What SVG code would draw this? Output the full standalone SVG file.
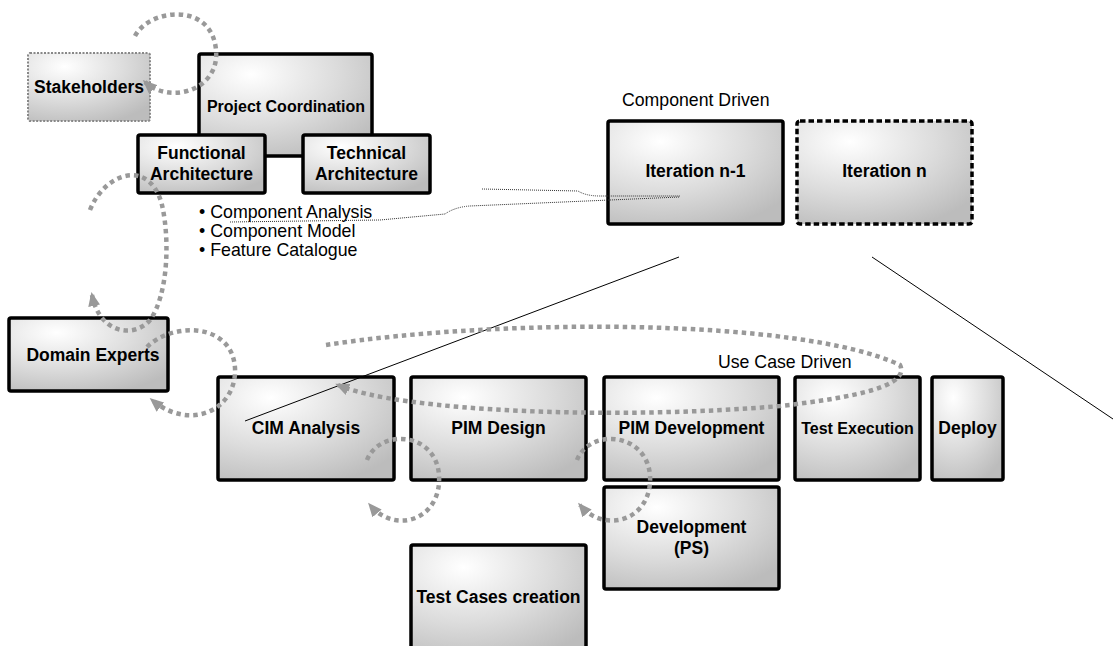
<svg xmlns="http://www.w3.org/2000/svg" width="1113" height="646" viewBox="0 0 1113 646">
  <defs>
    <radialGradient id="boxFill" cx="0.3" cy="0.2" r="0.9" fx="0.3" fy="0.2">
      <stop offset="0" stop-color="#ffffff"/>
      <stop offset="0.55" stop-color="#dcdcdc"/>
      <stop offset="1" stop-color="#bcbcbc"/>
    </radialGradient>
    <marker id="grayHead" viewBox="0 0 14 12" markerWidth="14" markerHeight="12" refX="11" refY="6" orient="auto" markerUnits="userSpaceOnUse">
      <path d="M0,0 L14,6 L0,12 z" fill="#999999"/>
    </marker>
    <style>
      .box { fill: url(#boxFill); stroke: #000; stroke-width: 3.5; }
      .soft { fill: url(#boxFill); stroke: #888; stroke-width: 2; stroke-dasharray: 2 1.5; }
      .dash { fill: url(#boxFill); stroke: #000; stroke-width: 3.5; stroke-dasharray: 5.5 3; }
      .lbl { font-family: "Liberation Sans", Arial, Helvetica, sans-serif; font-weight: bold; font-size: 17.5px; fill: #000; text-anchor: middle; }
      .small { font-size: 16px; }
      .note { font-family: "Liberation Sans", Arial, Helvetica, sans-serif; font-size: 17.7px; fill: #000; }
      .bul { font-family: "Liberation Sans", Arial, Helvetica, sans-serif; font-size: 17.8px; fill: #000; }
      .flow { fill: none; stroke: #999999; stroke-width: 4.5; stroke-dasharray: 4.5 4; marker-end: url(#grayHead); }
      .thin { fill: none; stroke: #000; stroke-width: 1; }
      .hair { fill: none; stroke: #333; stroke-width: 1; stroke-dasharray: 1 1; }
    </style>
  </defs>

  <rect width="1113" height="646" fill="#ffffff"/>

  <!-- management area -->
  <g id="stakeholders">
    <rect class="soft" x="28" y="53" width="122" height="68" rx="2"/>
    <text class="lbl" x="89" y="93">Stakeholders</text>
  </g>
  <g id="project-coordination">
    <rect class="box" x="199" y="54" width="173" height="102" rx="2"/>
    <text class="lbl small" x="286" y="112">Project Coordination</text>
  </g>
  <g id="functional-architecture">
    <rect class="box" x="138" y="135" width="127" height="58" rx="2"/>
    <text class="lbl" x="201.5" y="159">Functional</text>
    <text class="lbl" x="201.5" y="180">Architecture</text>
  </g>
  <g id="technical-architecture">
    <rect class="box" x="303" y="135" width="127" height="58" rx="2"/>
    <text class="lbl" x="366.5" y="159">Technical</text>
    <text class="lbl" x="366.5" y="180">Architecture</text>
  </g>
  <g id="architecture-outputs">
    <text class="bul" x="199" y="218">• Component Analysis</text>
    <text class="bul" x="199" y="237">• Component Model</text>
    <text class="bul" x="199" y="256">• Feature Catalogue</text>
  </g>

  <!-- component driven iterations -->
  <g id="component-driven">
    <text class="note" x="622" y="106">Component Driven</text>
  </g>
  <g id="iteration-n-1">
    <rect class="box" x="608" y="121" width="175" height="103" rx="2"/>
    <text class="lbl" x="695.5" y="177">Iteration n-1</text>
  </g>
  <g id="iteration-n">
    <rect class="dash" x="797" y="121" width="175" height="103" rx="3"/>
    <text class="lbl" x="884.5" y="177">Iteration n</text>
  </g>

  <g id="domain-experts">
    <rect class="box" x="9" y="318" width="159" height="73" rx="2"/>
    <text class="lbl" x="93" y="361">Domain Experts</text>
  </g>

  <!-- use case driven steps -->
  <g id="use-case-driven">
    <text class="note" x="718" y="368">Use Case Driven</text>
  </g>
  <g id="cim-analysis">
    <rect class="box" x="218" y="377" width="176" height="103" rx="2"/>
    <text class="lbl" x="306" y="434">CIM Analysis</text>
  </g>
  <g id="pim-design">
    <rect class="box" x="411" y="377" width="175" height="103" rx="2"/>
    <text class="lbl" x="498.5" y="434">PIM Design</text>
  </g>
  <g id="pim-development">
    <rect class="box" x="604" y="377" width="175" height="103" rx="2"/>
    <text class="lbl" x="691.5" y="434">PIM Development</text>
  </g>
  <g id="test-execution">
    <rect class="box" x="795" y="377" width="125" height="103" rx="2"/>
    <text class="lbl small" x="857.5" y="434">Test Execution</text>
  </g>
  <g id="deploy">
    <rect class="box" x="932" y="377" width="71" height="103" rx="2"/>
    <text class="lbl" x="967.5" y="434">Deploy</text>
  </g>
  <g id="development-ps">
    <rect class="box" x="604" y="487" width="175" height="102" rx="2"/>
    <text class="lbl" x="691.5" y="533">Development</text>
    <text class="lbl" x="691.5" y="554">(PS)</text>
  </g>
  <g id="test-cases-creation">
    <rect class="box" x="411" y="545" width="175" height="112" rx="2"/>
    <text class="lbl" x="498.5" y="603">Test Cases creation</text>
  </g>

  <!-- connectors -->
  <g id="connectors">
    <!-- zoom lines from iteration n-1 down to the use case steps -->
    <line class="thin" x1="679" y1="257" x2="245" y2="421"/>
    <line class="thin" x1="872" y1="257" x2="1113" y2="419"/>

    <!-- links from the component analysis into iteration n-1 -->
    <path class="hair" d="M230,222 L380,220 L445,214 Q455,207 470,206 L680,197"/>
    <path class="hair" d="M482,189 L578,191 Q586,196 600,196 L680,196"/>

    <!-- feedback loops -->
    <path class="flow" d="M135,36 C150,8 212,2 216,50 C220,90 170,105 145,82"/>
    <path class="flow" d="M90,210 C105,172 150,158 162,205 C170,240 168,295 150,320 C135,338 100,335 92,295"/>
    <path class="flow" d="M147,347 C172,322 232,322 235,368 C237,410 190,432 152,400"/>
    <path class="flow" d="M326,345 C500,318 800,318 900,365 C910,385 860,397 780,406 C620,420 400,412 338,385"/>
    <path class="flow" d="M367,460 C380,428 436,432 439,475 C442,520 395,535 370,505"/>
    <path class="flow" d="M577,460 C590,428 646,432 650,475 C653,520 605,535 580,505"/>
  </g>
</svg>
